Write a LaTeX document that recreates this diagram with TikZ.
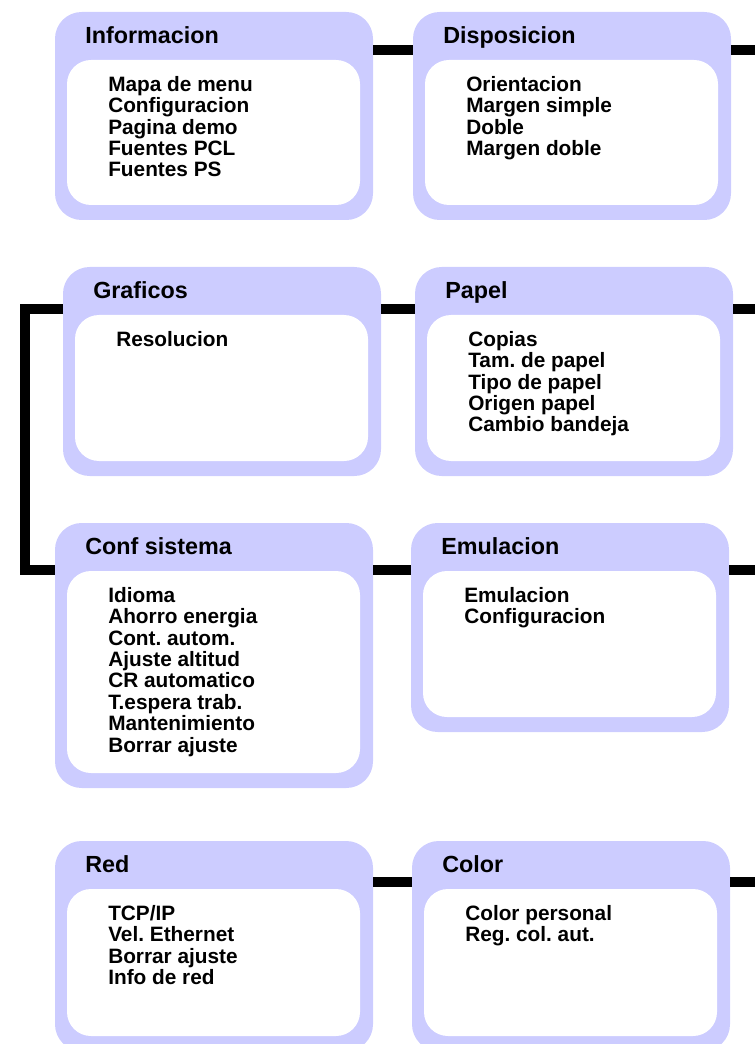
\documentclass[tikz,border=0pt]{standalone}
\usepackage{fontspec}
\setmainfont{Liberation Sans}
\usetikzlibrary{positioning}
\definecolor{menulilac}{RGB}{204,204,255}
\frenchspacing

\tikzset{
  menubox/.style={fill=menulilac, rounded corners=20pt, minimum width=238.5pt,
    inner sep=0pt, outer sep=0pt, anchor=north west},
  menuinner/.style={fill=white, rounded corners=18pt, minimum width=219.75pt,
    inner sep=0pt, outer sep=0pt},
  menutitle/.style={font=\fontsize{17.5}{20}\selectfont\bfseries, anchor=base west, inner sep=0pt},
  menuitems/.style={font=\fontsize{15.6}{16.05}\selectfont\bfseries, align=left,
    anchor=north west, inner sep=0pt},
  link/.style={line width=8pt, black}
}

\begin{document}
\begin{tikzpicture}[x=0.75pt, y=-0.75pt]
    \useasboundingbox (0,0) rectangle (755,1044);
    \clip (0,0) rectangle (755,1044);

    % Informacion
    \node[menubox, minimum height=156pt] (info) at (55,12) {};
    \node[menuinner, minimum height=108.75pt, below right=36pt and 9pt of info.north west] (info-in) {};
    \node[menutitle] (info-t) at ([shift={(30,31.5)}]info.north west) {Informacion};
    \node[menuitems] (info-i) at ([shift={(53,64)}]info.north west)
        {Mapa de menu\\Configuracion\\Pagina demo\\Fuentes PCL\\Fuentes PS};

    % Disposicion
    \node[menubox, minimum height=156pt] (dispo) at (413,12) {};
    \node[menuinner, minimum height=108.75pt, below right=36pt and 9pt of dispo.north west] (dispo-in) {};
    \node[menutitle] (dispo-t) at ([shift={(30,31.5)}]dispo.north west) {Disposicion};
    \node[menuitems] (dispo-i) at ([shift={(53,64)}]dispo.north west)
        {Orientacion\\Margen simple\\Doble\\Margen doble};

    % Graficos
    \node[menubox, minimum height=156.75pt] (graf) at (63,267) {};
    \node[menuinner, minimum height=109.5pt, below right=36pt and 9pt of graf.north west] (graf-in) {};
    \node[menutitle] (graf-t) at ([shift={(30,31.5)}]graf.north west) {Graficos};
    \node[menuitems] (graf-i) at ([shift={(53,64)}]graf.north west) {Resolucion};

    % Papel
    \node[menubox, minimum height=156.75pt] (papel) at (415,267) {};
    \node[menuinner, minimum height=109.5pt, below right=36pt and 9pt of papel.north west] (papel-in) {};
    \node[menutitle] (papel-t) at ([shift={(30,31.5)}]papel.north west) {Papel};
    \node[menuitems] (papel-i) at ([shift={(53,64)}]papel.north west)
        {Copias\\Tam. de papel\\Tipo de papel\\Origen papel\\Cambio bandeja};

    % Conf sistema
    \node[menubox, minimum height=198.75pt] (conf) at (55,523) {};
    \node[menuinner, minimum height=151.5pt, below right=36pt and 9pt of conf.north west] (conf-in) {};
    \node[menutitle] (conf-t) at ([shift={(30,31.5)}]conf.north west) {Conf sistema};
    \node[menuitems] (conf-i) at ([shift={(53,64)}]conf.north west)
        {Idioma\\Ahorro energia\\Cont. autom.\\Ajuste altitud\\CR automatico\\T.espera trab.\\Mantenimiento\\Borrar ajuste};

    % Emulacion
    \node[menubox, minimum height=156.75pt] (emul) at (411,523) {};
    \node[menuinner, minimum height=109.5pt, below right=36pt and 9pt of emul.north west] (emul-in) {};
    \node[menutitle] (emul-t) at ([shift={(30,31.5)}]emul.north west) {Emulacion};
    \node[menuitems] (emul-i) at ([shift={(53,64)}]emul.north west)
        {Emulacion\\Configuracion};

    % Red
    \node[menubox, minimum height=157.5pt] (red) at (55,841) {};
    \node[menuinner, minimum height=110.25pt, below right=36pt and 9pt of red.north west] (red-in) {};
    \node[menutitle] (red-t) at ([shift={(30,31.5)}]red.north west) {Red};
    \node[menuitems] (red-i) at ([shift={(53,64)}]red.north west)
        {TCP/IP\\Vel. Ethernet\\Borrar ajuste\\Info de red};

    % Color
    \node[menubox, minimum height=157.5pt] (color) at (412,841) {};
    \node[menuinner, minimum height=110.25pt, below right=36pt and 9pt of color.north west] (color-in) {};
    \node[menutitle] (color-t) at ([shift={(30,31.5)}]color.north west) {Color};
    \node[menuitems] (color-i) at ([shift={(53,64)}]color.north west)
        {Color personal\\Reg. col. aut.};

    % Links between menus
    \coordinate (r1) at (755,50);
    \coordinate (r2) at (755,309);
    \coordinate (r3) at (755,570);
    \coordinate (r4) at (755,882);
    \coordinate (l2) at (25,309);
    \coordinate (l3) at (25,570);
    \draw[link] (info.east |- r1) -- (dispo.west |- r1);
    \draw[link] (dispo.east |- r1) -- (r1);
    \draw[link] (graf.east |- r2) -- (papel.west |- r2);
    \draw[link] (papel.east |- r2) -- (r2);
    \draw[link] (graf.west |- l2) -- (l2) -- (l3) -- (conf.west |- l3);
    \draw[link] (conf.east |- r3) -- (emul.west |- r3);
    \draw[link] (emul.east |- r3) -- (r3);
    \draw[link] (red.east |- r4) -- (color.west |- r4);
    \draw[link] (color.east |- r4) -- (r4);
\end{tikzpicture}
\end{document}
